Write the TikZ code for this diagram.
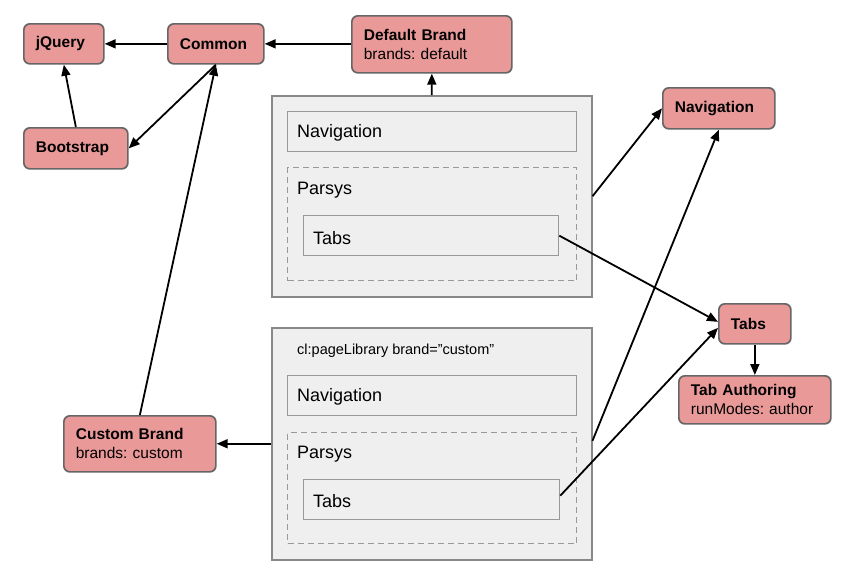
\documentclass[tikz,border=0pt]{standalone}
\usepackage{fontspec}
\setmainfont{Liberation Sans}
\usetikzlibrary{arrows.meta}
\definecolor{pinkfill}{HTML}{EA9999}
\definecolor{pinkline}{HTML}{666666}
\definecolor{greyfill}{HTML}{EFEFEF}
\definecolor{greyline}{HTML}{999999}
\definecolor{contline}{HTML}{888888}
\tikzset{
  pinkbox/.style={draw=pinkline, fill=pinkfill, line width=1.7pt, rounded corners=6pt,
    anchor=north west, inner xsep=12pt, inner ysep=0pt, align=left,
    font=\fontsize{15.5}{19}\selectfont},
  container/.style={draw=contline, fill=greyfill, line width=1.5pt, anchor=north west, inner sep=0pt},
  inner box/.style={draw=greyline, fill=greyfill, line width=1.3pt, anchor=north west, inner sep=0pt},
  dash box/.style={draw=greyline, dash pattern=on 6pt off 4pt, line width=1.3pt, anchor=north west, inner sep=0pt},
  lbl/.style={anchor=west, inner sep=0pt, font=\fontsize{18}{22}\selectfont},
  arr/.style={-{Triangle[length=11pt,width=9pt]}, line width=1.8pt, black},
}
\begin{document}
\frenchspacing
\begin{tikzpicture}[x=1pt,y=-1pt]
\useasboundingbox (0,0) rectangle (854,579);
% pink boxes
\node[pinkbox, text width=56pt, minimum height=40pt] (jq) at (23,23) {\textbf{jQuery}};
\node[pinkbox, text width=72pt, minimum height=40pt] (common) at (167,23) {\textbf{Common}};
\node[pinkbox, text width=136pt, minimum height=57pt] (db) at (351,15) {\textbf{Default Brand}\\brands: default};
\node[pinkbox, text width=80pt, minimum height=41pt] (bs) at (23,127) {\textbf{Bootstrap}};
\node[pinkbox, text width=88pt, minimum height=41pt] (navr) at (662,87) {\textbf{Navigation}};
\node[pinkbox, text width=48pt, minimum height=40pt] (tabsr) at (718,303) {\textbf{Tabs}};
\node[pinkbox, text width=128pt, minimum height=48pt] (ta) at (678,375) {\textbf{Tab Authoring}\\runModes: author};
\node[pinkbox, text width=128pt, minimum height=56pt] (cb) at (63,415) {\textbf{Custom Brand}\\brands: custom};
% top container
\node[container, minimum width=320pt, minimum height=201pt] (topc) at (271,95) {};
\node[inner box, minimum width=289pt, minimum height=40pt] (tnav) at (287,111) {};
\node[lbl] (tnavl) at (297,133) {Navigation};
\node[dash box, minimum width=289pt, minimum height=113pt] (tpar) at (287,167) {};
\node[lbl] (tparl) at (297,190) {Parsys};
\node[inner box, minimum width=255pt, minimum height=40pt] (ttabs) at (303,215) {};
\node[lbl] (ttabsl) at (313,238) {Tabs};
% bottom container
\node[container, minimum width=320pt, minimum height=232pt] (botc) at (271,327) {};
\node[anchor=west, inner sep=0pt, font=\fontsize{14.5}{17}\selectfont] (libl) at (297,351) {cl:pageLibrary brand=”custom”};
\node[inner box, minimum width=289pt, minimum height=40pt] (bnav) at (287,375) {};
\node[lbl] (bnavl) at (297,397) {Navigation};
\node[dash box, minimum width=289pt, minimum height=111pt] (bpar) at (287,432) {};
\node[lbl] (bparl) at (297,454) {Parsys};
\node[inner box, minimum width=256pt, minimum height=40pt] (btabs) at (303,479) {};
\node[lbl] (btabsl) at (313,501) {Tabs};
% connectors
\draw[arr] (common.west) -- (jq.east);
\draw[arr] (db.west |- common.west) -- (common.east);
\draw[arr] (bs.north) -- (jq.south);
\draw[arr] (common.south) -- (bs.east);
\draw[arr] (cb.north) -- (common.south);
\draw[arr] (topc.north) -- (db.south);
\draw[arr] (topc.east) -- (navr.west);
\draw[arr] (ttabs.east) -- ([yshift=2pt]tabsr.west);
\draw[arr] ([yshift=3pt]botc.east) -- (navr.south);
\draw[arr] ([yshift=4pt]btabs.east) -- ([yshift=-4pt]tabsr.west);
\draw[arr] (tabsr.south) -- (tabsr.south |- ta.north);
\draw[arr] (botc.west) -- (cb.east |- botc.west);
\end{tikzpicture}
\end{document}
